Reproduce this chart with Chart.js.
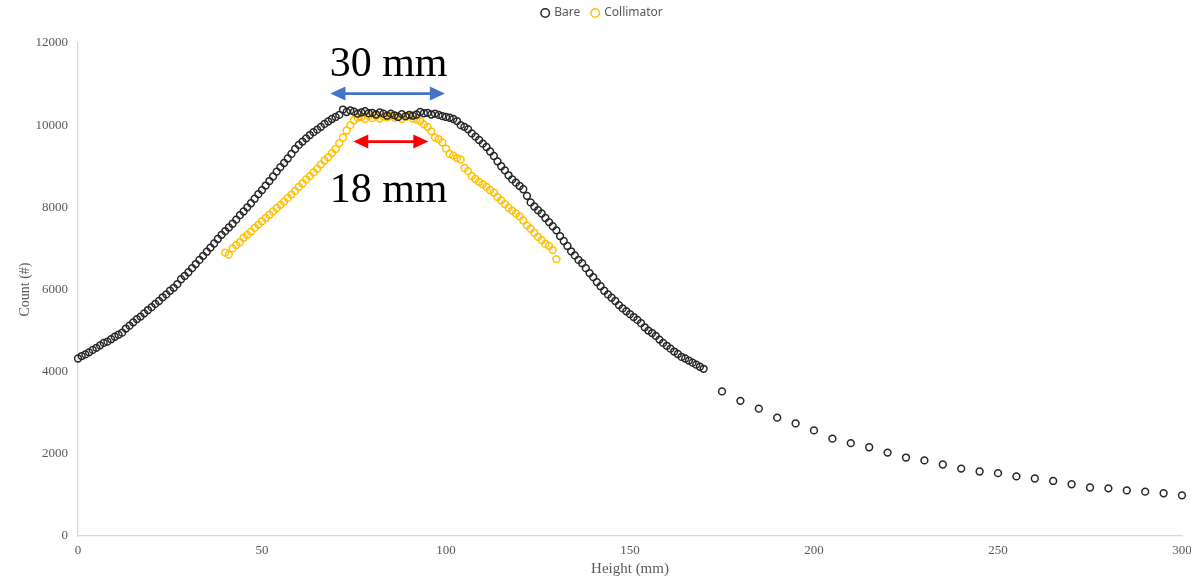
<!DOCTYPE html>
<html>
<head>
<meta charset="utf-8">
<script src="https://cdn.jsdelivr.net/npm/chart.js@4.4.0/dist/chart.umd.min.js"></script>
<style>
  html, body { margin: 0; padding: 0; background: #fff; }
  #wrap { width: 1191px; height: 581px; }
</style>
</head>
<body>
<div id="wrap"><canvas id="beamChart" width="1191" height="581"></canvas></div>
<script>
// ===== Data =====
const bareHeight = [
  0,1,2,3,4,5,6,7,8,9,10,11,12,13,14,15,16,17,18,19,20,21,22,23,24,25,26,27,28,29,
  30,31,32,33,34,35,36,37,38,39,40,41,42,43,44,45,46,47,48,49,50,51,52,53,54,55,56,57,58,59,
  60,61,62,63,64,65,66,67,68,69,70,71,72,73,74,75,76,77,78,79,80,81,82,83,84,85,86,87,88,89,
  90,91,92,93,94,95,96,97,98,99,100,101,102,103,104,105,106,107,108,109,110,111,112,113,114,115,116,117,118,119,
  120,121,122,123,124,125,126,127,128,129,130,131,132,133,134,135,136,137,138,139,140,141,142,143,144,145,146,147,148,149,
  150,151,152,153,154,155,156,157,158,159,160,161,162,163,164,165,166,167,168,169,170,
  175,180,185,190,195,200,205,210,215,220,225,230,235,240,245,250,255,260,265,270,275,280,285,290,295,300
];
const bareCount = [
  4320,4380,4420,4470,4530,4580,4640,4700,4730,4790,
  4850,4900,4950,5050,5120,5200,5280,5340,5420,5500,
  5570,5650,5720,5810,5880,5970,6040,6130,6250,6330,
  6420,6520,6620,6720,6820,6920,7020,7120,7230,7330,
  7420,7510,7600,7700,7810,7900,8000,8100,8210,8320,
  8420,8530,8640,8750,8870,8980,9080,9190,9300,9420,
  9520,9600,9680,9760,9830,9890,9960,10030,10090,10150,
  10200,10250,10380,10320,10360,10330,10280,10310,10340,10290,
  10300,10260,10310,10280,10230,10280,10240,10200,10270,10220,
  10250,10230,10260,10320,10290,10300,10260,10280,10250,10220,
  10200,10180,10150,10100,10000,9960,9900,9800,9720,9640,
  9550,9470,9360,9250,9120,9000,8900,8780,8680,8600,
  8520,8440,8280,8120,8020,7930,7850,7740,7640,7540,
  7440,7300,7180,7060,6930,6830,6720,6640,6520,6400,
  6300,6180,6080,5970,5880,5800,5720,5620,5540,5470,
  5400,5330,5260,5180,5080,5000,4940,4870,4780,4700,
  4630,4560,4490,4430,4360,4320,4270,4220,4170,4120,4070,
  3520,3290,3100,2880,2740,2570,2370,2260,2160,2030,1910,1840,1740,
  1640,1570,1530,1450,1400,1340,1260,1180,1160,1110,1080,1040,990
];
const collHeight = [
  40,41,42,43,44,45,46,47,48,49,50,51,52,53,54,55,56,57,58,59,
  60,61,62,63,64,65,66,67,68,69,70,71,72,73,74,75,76,77,78,79,
  80,81,82,83,84,85,86,87,88,89,90,91,92,93,94,95,96,97,98,99,
  100,101,102,103,104,105,106,107,108,109,110,111,112,113,114,115,116,117,118,119,
  120,121,122,123,124,125,126,127,128,129,130
];
const collCount = [
  6900,6850,7000,7080,7150,7260,7330,7410,7500,7580,
  7660,7740,7820,7900,7980,8060,8140,8230,8310,8400,
  8500,8580,8680,8760,8850,8940,9040,9140,9220,9320,
  9420,9560,9700,9870,10000,10120,10180,10200,10150,10220,
  10170,10230,10160,10210,10190,10240,10180,10220,10150,10200,
  10230,10160,10140,10100,10020,9960,9850,9700,9660,9580,
  9430,9300,9260,9200,9160,8960,8880,8760,8690,8620,
  8560,8500,8420,8360,8250,8170,8080,7990,7920,7850,
  7780,7680,7560,7480,7380,7280,7200,7110,7060,6960,6740
];
const xTicks = [0, 50, 100, 150, 200, 250, 300];
const yTicks = [0, 2000, 4000, 6000, 8000, 10000, 12000];

// width markers (data units): arrow start, arrow end, level, label
const markFrom = [68.6, 74.8];
const markTo = [99.7, 95.2];
const markLevel = [10770, 9600];
const markLabel = ["30 mm", "18 mm"];
const markLabelX = [84.4, 84.4];
const markLabelY = [11190, 8140];
const markColor = ["#4472C4", "#FF0000"];

// ===== Helpers =====
const toPoints = (xs, ys) => xs.map((v, i) => ({ x: v, y: ys[i] }));
const serif = "'Liberation Serif', 'Times New Roman', serif";
const grey = "#595959";

// legend sits a bit above the plot, give it some extra room
const legendSpace = {
  id: "legendSpace",
  beforeInit(chart) {
    const fit = chart.legend.fit;
    chart.legend.fit = function () {
      fit.bind(chart.legend)();
      this.height += 14;
    };
  }
};

// double-headed arrows + width labels
const widthMarks = {
  id: "widthMarks",
  afterDatasetsDraw(chart) {
    const { ctx, scales: { x, y } } = chart;
    const head = 15, half = 7;
    ctx.save();
    markFrom.forEach((from, i) => {
      const x0 = x.getPixelForValue(from);
      const x1 = x.getPixelForValue(markTo[i]);
      const yy = y.getPixelForValue(markLevel[i]);
      ctx.strokeStyle = markColor[i];
      ctx.fillStyle = markColor[i];
      ctx.lineWidth = 2.7;
      ctx.beginPath();
      ctx.moveTo(x0 + head - 2, yy);
      ctx.lineTo(x1 - head + 2, yy);
      ctx.stroke();
      ctx.beginPath();
      ctx.moveTo(x0, yy);
      ctx.lineTo(x0 + head, yy - half);
      ctx.lineTo(x0 + head, yy + half);
      ctx.closePath();
      ctx.fill();
      ctx.beginPath();
      ctx.moveTo(x1, yy);
      ctx.lineTo(x1 - head, yy - half);
      ctx.lineTo(x1 - head, yy + half);
      ctx.closePath();
      ctx.fill();
    });
    ctx.fillStyle = "#000";
    ctx.font = "42px " + serif;
    ctx.textAlign = "center";
    ctx.textBaseline = "alphabetic";
    markLabel.forEach((t, i) => {
      ctx.fillText(t, x.getPixelForValue(markLabelX[i]), y.getPixelForValue(markLabelY[i]));
    });
    ctx.restore();
  }
};

// ===== Chart =====
const ctx = document.getElementById("beamChart").getContext("2d");
const chart = new Chart(ctx, {
  type: "scatter",
  data: {
    datasets: [
      {
        label: "Bare",
        data: toPoints(bareHeight, bareCount),
        borderColor: "#262626",
        backgroundColor: "rgba(0,0,0,0)",
        pointRadius: 3.4,
        pointBorderWidth: 1.5,
        pointHoverRadius: 3.4,
        clip: false
      },
      {
        label: "Collimator",
        data: toPoints(collHeight, collCount),
        borderColor: "#FFC000",
        backgroundColor: "rgba(0,0,0,0)",
        pointRadius: 3.4,
        pointBorderWidth: 1.5,
        pointHoverRadius: 3.4,
        clip: false
      }
    ]
  },
  options: {
    responsive: false,
    animation: false,
    layout: { padding: { top: -5, right: 0, bottom: 0, left: 14 } },
    plugins: {
      tooltip: { enabled: false },
      legend: {
        position: "top",
        labels: {
          usePointStyle: true,
          pointStyle: "circle",
          boxWidth: 6,
          boxHeight: 6,
          padding: 12,
          color: grey,
          font: { family: "'Noto Sans', 'Open Sans', sans-serif", size: 12 }
        }
      }
    },
    scales: {
      x: {
        type: "linear",
        min: 0,
        max: 300,
        afterBuildTicks: s => { s.ticks = xTicks.map(v => ({ value: v })); },
        afterFit: s => { s.height = 45; s.paddingRight = 9; },
        grid: { display: false, drawTicks: false },
        border: { display: true, color: "#d9d9d9", width: 1.3 },
        ticks: { color: grey, padding: 7, maxRotation: 0, font: { family: serif, size: 13 }, callback: v => String(v) },
        title: { display: true, text: "Height (mm)", color: grey, padding: { top: 0, bottom: 3 }, font: { family: serif, size: 15 } }
      },
      y: {
        min: 0,
        max: 12000,
        afterBuildTicks: s => { s.ticks = yTicks.map(v => ({ value: v })); },
        afterFit: s => { s.width = 64; },
        grid: { display: false, drawTicks: false },
        border: { display: true, color: "#d9d9d9", width: 1.3 },
        ticks: { color: grey, padding: 10, font: { family: serif, size: 13 }, callback: v => String(v) },
        title: { display: true, text: "Count (#)", color: grey, padding: { top: 3, bottom: 0 }, font: { family: serif, size: 14 } }
      }
    }
  },
  plugins: [legendSpace, widthMarks]
});
</script>
</body>
</html>
